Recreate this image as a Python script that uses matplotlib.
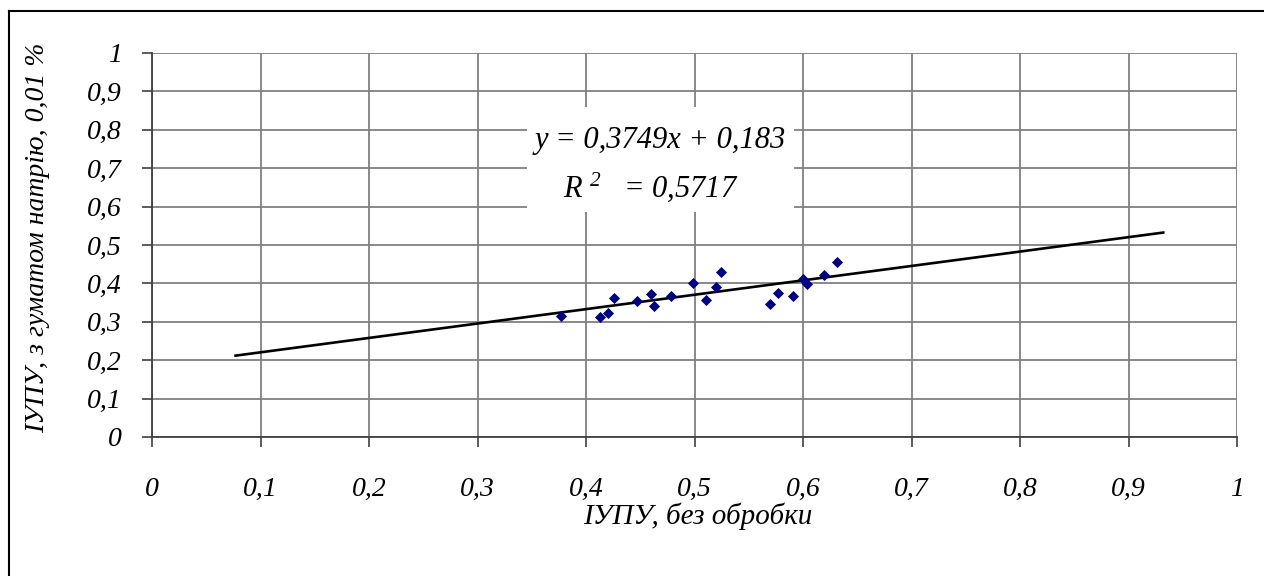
import matplotlib
matplotlib.use("Agg")
import matplotlib.pyplot as plt
from matplotlib.lines import Line2D
from matplotlib.patches import Rectangle

# Data
x_vals = [0.377, 0.4125, 0.420, 0.426, 0.447, 0.460, 0.463, 0.478, 0.4985, 0.511,
          0.520, 0.524, 0.570, 0.577, 0.591, 0.600, 0.604, 0.6196, 0.6315]
y_vals = [0.315, 0.313, 0.322, 0.363, 0.355, 0.372, 0.341, 0.367, 0.400, 0.358,
          0.391, 0.429, 0.347, 0.376, 0.367, 0.412, 0.398, 0.421, 0.456]
slope = 0.3749
intercept = 0.183
r2 = 0.5717
trend_x = [0.077, 0.932]
ticks = [0, 0.1, 0.2, 0.3, 0.4, 0.5, 0.6, 0.7, 0.8, 0.9, 1]
tick_labels = ["0", "0,1", "0,2", "0,3", "0,4", "0,5", "0,6", "0,7", "0,8", "0,9", "1"]
xlabel = "ІУПУ, без обробки"
ylabel = "ІУПУ, з гуматом натрію, 0,01 %"

plt.rcParams['font.family'] = ['Liberation Serif', 'DejaVu Serif']
plt.rcParams['font.style'] = 'italic'
plt.rcParams['mathtext.fontset'] = 'custom'
plt.rcParams['mathtext.it'] = 'Liberation Serif:italic'
plt.rcParams['mathtext.rm'] = 'Liberation Serif:italic'

W, H = 1264, 576
fig = plt.figure(figsize=(W / 100, H / 100), dpi=100)
ax = fig.add_axes([152 / W, 1 - 437 / H, (1237 - 152) / W, (437 - 53) / H])

ax.set_xlim(0, 1)
ax.set_ylim(0, 1)
ax.set_xticks(ticks)
ax.set_yticks(ticks)
ax.set_xticklabels(tick_labels, fontsize=20, style='italic')
ax.set_yticklabels(tick_labels, fontsize=20, style='italic')
ax.tick_params(axis='x', direction='out', length=7, width=1.2, color='#404040', pad=22)
ax.tick_params(axis='y', direction='out', length=7, width=1.2, color='#404040', pad=15)

ax.grid(True, color='#808080', linewidth=1.3)
ax.set_axisbelow(True)
for s in ['top', 'right']:
    ax.spines[s].set_visible(False)
for s in ['left', 'bottom']:
    ax.spines[s].set_color('#404040')
    ax.spines[s].set_linewidth(1.3)

ty = [slope * t + intercept for t in trend_x]
ax.plot(trend_x, ty, color='black', linewidth=1.9, zorder=3)
ax.scatter(x_vals, y_vals, marker='D', s=32, color='#000080', zorder=4, linewidths=0)

# white box behind equation
ax.add_patch(Rectangle((0.3456, 0.586), 0.5917 - 0.3456, 0.859 - 0.586,
                       facecolor='white', edgecolor='none', zorder=2))
ax.text(0.468, 0.773, "y = " + f"{slope}".replace('.', ',') + "x + " + f"{intercept}".replace('.', ','),
        ha='center', va='center', fontsize=22, style='italic', zorder=5)
ax.text(0.4595, 0.651, r"$R^{\,\,2}$   = " + f"{r2}".replace('.', ','),
        ha='center', va='center', fontsize=22, style='italic', zorder=5)

fig.text(698 / W, 1 - 516 / H, xlabel, ha='center', va='center', fontsize=21, style='italic')
fig.text(38 / W, 1 - 238 / H, ylabel, ha='center', va='center', fontsize=20, style='italic',
         rotation=90)

# outer frame (top and left visible)
fig.add_artist(Line2D([9 / W, 9 / W], [0, 1 - 11 / H], color='black', linewidth=1.5,
                      transform=fig.transFigure))
fig.add_artist(Line2D([9 / W, 1], [1 - 11 / H, 1 - 11 / H], color='black', linewidth=1.5,
                      transform=fig.transFigure))

fig.savefig("out.png", dpi=100)
